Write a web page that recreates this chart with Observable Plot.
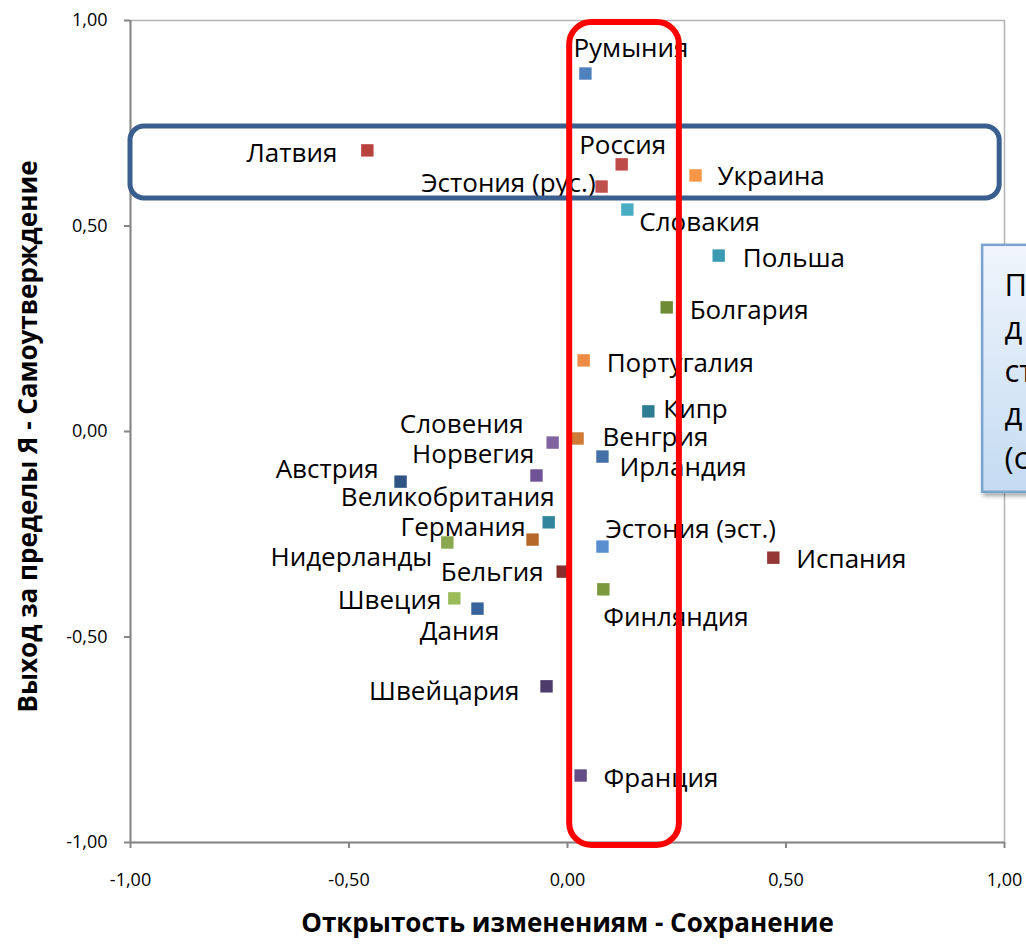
<!DOCTYPE html>
<html>
<head>
<meta charset="utf-8">
<script src="https://cdn.jsdelivr.net/npm/d3@7"></script>
<script src="https://cdn.jsdelivr.net/npm/@observablehq/plot@0.6"></script>
<style>
  body { margin: 0; background: #fff; }
  #chart svg { display: block; }
</style>
</head>
<body>
<div id="chart"></div>
<script>
// ---------- data ----------
const countries = [
  "Румыния", "Латвия", "Россия", "Эстония (рус.)", "Украина", "Словакия",
  "Польша", "Болгария", "Португалия", "Кипр", "Венгрия", "Ирландия",
  "Эстония (эст.)", "Испания", "Финляндия", "Словения", "Норвегия", "Австрия",
  "Великобритания", "Германия", "Нидерланды", "Бельгия", "Швеция", "Дания",
  "Швейцария", "Франция"
];
// Открытость изменениям - Сохранение
const openness = [
  0.041, -0.458, 0.124, 0.078, 0.293, 0.137,
  0.346, 0.227, 0.037, 0.185, 0.023, 0.080,
  0.080, 0.471, 0.082, -0.034, -0.071, -0.382,
  -0.043, -0.080, -0.275, -0.011, -0.259, -0.206,
  -0.048, 0.030
];
// Выход за пределы Я - Самоутверждение
const selfEnhancement = [
  0.871, 0.684, 0.650, 0.596, 0.623, 0.540,
  0.428, 0.302, 0.173, 0.049, -0.017, -0.061,
  -0.280, -0.307, -0.384, -0.027, -0.107, -0.122,
  -0.221, -0.263, -0.270, -0.341, -0.406, -0.431,
  -0.620, -0.837
];
const markerColors = [
  "#4f81bd", "#b9433f", "#be4b48", "#c0504d", "#f79646", "#4bacc6",
  "#3d9ab3", "#6f8c35", "#ec8c45", "#2f7d93", "#d07a35", "#4470a8",
  "#5a8fcf", "#953735", "#7a9a3d", "#8064a2", "#6f5396", "#2f5484",
  "#31859c", "#b5682a", "#8aa84f", "#862f2c", "#9bbb59", "#37649b",
  "#4d3c6c", "#634f86"
];
const xTicks = [-1, -0.5, 0, 0.5, 1];
const yTicks = [-1, -0.5, 0, 0.5, 1];
const xTitle = "Открытость изменениям - Сохранение";
const yTitle = "Выход за пределы Я - Самоутверждение";
const calloutLines = ["П", "д", "ст", "д", "(с"];

// ---------- layout (label placement relative to marker, in px) ----------
const labelLayout = {
  "Румыния": ["start", -12, -25],
  "Латвия": ["end", -30, 3],
  "Россия": ["middle", 1, -19],
  "Эстония (рус.)": ["end", -6, -3],
  "Украина": ["start", 22, 1],
  "Словакия": ["start", 12, 13],
  "Польша": ["start", 24, 3],
  "Болгария": ["start", 23, 3],
  "Португалия": ["start", 23, 3],
  "Кипр": ["start", 15, -2],
  "Венгрия": ["start", 25, -1],
  "Ирландия": ["start", 17, 11],
  "Эстония (эст.)": ["start", 3, -17],
  "Испания": ["start", 23, 2],
  "Финляндия": ["start", 0, 28],
  "Словения": ["end", -29, -18],
  "Норвегия": ["end", -2, -21],
  "Австрия": ["end", -22, -12],
  "Великобритания": ["end", 6, -25],
  "Германия": ["end", -7, -12],
  "Нидерланды": ["end", -15, 15],
  "Бельгия": ["end", -19, 1],
  "Швеция": ["end", -13, 2],
  "Дания": ["middle", -18, 23],
  "Швейцария": ["end", -27, 5],
  "Франция": ["start", 23, 3]
};

const points = countries.map((name, i) => ({
  name, x: openness[i], y: selfEnhancement[i], color: markerColors[i]
}));

const FONT = "'Open Sans', 'Noto Sans', sans-serif";
const fmt = d => d.toFixed(2).replace(".", ",");

const labelMarks = points.map(p => {
  const [anchor, dx, dy] = labelLayout[p.name];
  return Plot.text([p], {
    x: "x", y: "y", text: "name",
    textAnchor: anchor, dx, dy,
    fontSize: 26, fill: "#000"
  });
});

const chart = Plot.plot({
  width: 1026,
  height: 946,
  marginLeft: 130,
  marginRight: 22,
  marginTop: 20,
  marginBottom: 104,
  style: { fontFamily: FONT, background: "#fff", overflow: "visible" },
  x: { domain: [-1, 1] },
  y: { domain: [-1, 1] },
  color: { type: "identity" },
  marks: [
    Plot.frame({ stroke: "#b3b3b3", strokeWidth: 1.5 }),
    Plot.axisX(xTicks, {
      tickFormat: fmt, tickSize: 6, tickPadding: 25, fontSize: 18,
      stroke: "#868686", strokeWidth: 2, fill: "#000", label: null
    }),
    Plot.axisY(yTicks, {
      tickFormat: fmt, tickSize: 6, tickPadding: 17, fontSize: 18,
      stroke: "#868686", strokeWidth: 2, fill: "#000", label: null
    }),
    Plot.ruleX([-1], { stroke: "#868686", strokeWidth: 2 }),
    Plot.ruleY([-1], { stroke: "#868686", strokeWidth: 2 }),
    Plot.dot(points, {
      x: "x", y: "y", fill: "color", symbol: "square", r: 7
    }),
    ...labelMarks,
    Plot.text([xTitle], {
      frameAnchor: "bottom", dy: 89, fontSize: 26, fontWeight: "bold", fill: "#000"
    }),
    Plot.text([yTitle], {
      frameAnchor: "left", textAnchor: "middle", rotate: -90, dx: -102, dy: 5,
      fontSize: 26, fontWeight: "bold", fill: "#000"
    }),
    // highlight: Eastern-European row
    Plot.rect([{ x1: -1.0, x2: 0.989, y1: 0.567, y2: 0.742 }], {
      x1: "x1", x2: "x2", y1: "y1", y2: "y2",
      fill: "none", stroke: "#3a5f8f", strokeWidth: 5, rx: 14
    }),
    // highlight: column near zero
    Plot.rect([{ x1: 0.005, x2: 0.256, y1: -1.007, y2: 0.995 }], {
      x1: "x1", x2: "x2", y1: "y1", y2: "y2",
      fill: "none", stroke: "#ff0000", strokeWidth: 6, rx: 22, clip: false
    }),
    // callout box (cut at the right edge)
    Plot.rect([{ x1: 0.950, x2: 1.2, y1: -0.148, y2: 0.453 }], {
      x1: "x1", x2: "x2", y1: "y1", y2: "y2",
      fill: "#dce8f6", stroke: "#7aa3cf", strokeWidth: 2.5, className: "callout"
    }),
    Plot.text([calloutLines.join("\n")], {
      x: 1.0, y: 0.153, textAnchor: "start", lineHeight: 1.39,
      fontSize: 31, fill: "#000"
    })
  ]
});

// gradient + shadow for the callout box
const svg = d3.select(chart);
const defs = svg.insert("defs", ":first-child");
const grad = defs.append("linearGradient")
  .attr("id", "calloutGrad").attr("x1", 0).attr("y1", 0).attr("x2", 0).attr("y2", 1);
grad.append("stop").attr("offset", "0%").attr("stop-color", "#f0f5fc");
grad.append("stop").attr("offset", "100%").attr("stop-color", "#c4dbf2");
const filt = defs.append("filter").attr("id", "calloutShadow")
  .attr("x", "-20%").attr("y", "-20%").attr("width", "150%").attr("height", "150%");
filt.append("feDropShadow").attr("dx", 2).attr("dy", 3).attr("stdDeviation", 2)
  .attr("flood-color", "#000").attr("flood-opacity", 0.35);
svg.selectAll(".callout rect")
  .attr("fill", "url(#calloutGrad)")
  .attr("filter", "url(#calloutShadow)");

document.getElementById("chart").appendChild(chart);
</script>
</body>
</html>
